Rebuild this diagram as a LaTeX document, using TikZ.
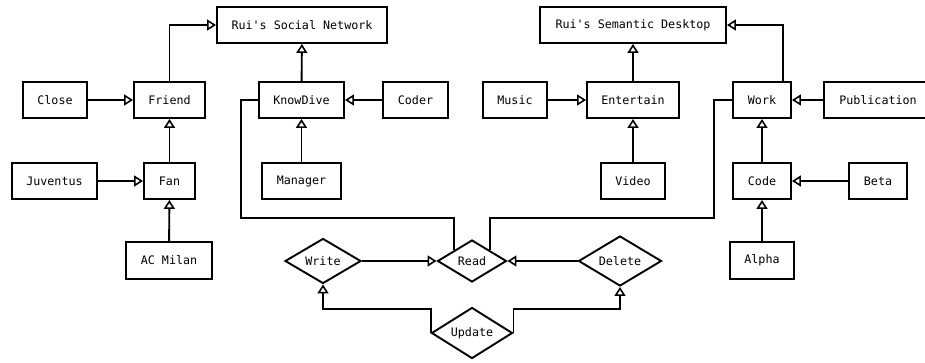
\documentclass[tikz,border=0pt]{standalone}
\usepackage{fontspec}
\setmonofont{DejaVu Sans Mono}
\usetikzlibrary{arrows.meta,shapes.geometric}

\begin{document}
\begin{tikzpicture}[x=1pt,y=-1pt,
  every node/.style={font=\ttfamily\fontsize{11.7}{14}\selectfont},
  box/.style={draw,line width=1.9pt,rectangle,inner sep=0pt},
  act/.style={draw,line width=1.9pt,diamond,inner sep=0pt,aspect=1.6},
  link/.style={line width=1.9pt},
  isa/.style={link,-{Triangle[open,length=9pt,width=11pt,line width=1.6pt]}}
]
\useasboundingbox (0,0) rectangle (925,362);
\clip (0,0) rectangle (925,362);

% social network side
\node[box,minimum width=170pt,minimum height=36pt] (soc) at (302,25) {Rui's Social Network};
\node[box,minimum width=64pt,minimum height=36pt] (close) at (55,100) {Close};
\node[box,minimum width=71pt,minimum height=36pt] (friend) at (169.5,100) {Friend};
\node[box,minimum width=85pt,minimum height=36pt] (knowdive) at (301.5,100) {KnowDive};
\node[box,minimum width=65pt,minimum height=36pt] (coder) at (415.5,100) {Coder};
\node[box,minimum width=85pt,minimum height=36pt] (juventus) at (54.5,181) {Juventus};
\node[box,minimum width=51pt,minimum height=36pt] (fan) at (169.5,181) {Fan};
\node[box,minimum width=79pt,minimum height=36pt] (manager) at (301.5,181) {Manager};
\node[box,minimum width=86pt,minimum height=37pt] (acmilan) at (169,260.5) {AC Milan};

% semantic desktop side
\node[box,minimum width=186pt,minimum height=36pt] (sem) at (633,25) {Rui's Semantic Desktop};
\node[box,minimum width=64pt,minimum height=36pt] (music) at (515,100) {Music};
\node[box,minimum width=92pt,minimum height=36pt] (entertain) at (633,100) {Entertain};
\node[box,minimum width=58pt,minimum height=36pt] (work) at (762,100) {Work};
\node[box,minimum width=108pt,minimum height=36pt] (publication) at (878,100) {Publication};
\node[box,minimum width=64pt,minimum height=36pt] (video) at (633,181) {Video};
\node[box,minimum width=58pt,minimum height=36pt] (code) at (762,181) {Code};
\node[box,minimum width=58pt,minimum height=36pt] (beta) at (878,181) {Beta};
\node[box,minimum width=64pt,minimum height=37pt] (alpha) at (762,260.5) {Alpha};

% access rights
\node[act,minimum width=76pt,minimum height=45pt] (write) at (323,261) {Write};
\node[act,minimum width=69pt,minimum height=42pt] (read) at (472,261) {Read};
\node[act,minimum width=83pt,minimum height=50pt] (delete) at (620,261) {Delete};
\node[act,minimum width=81pt,minimum height=51pt] (update) at (472,333) {Update};

% turning points of the plain links from Read
\coordinate (kdturn) at (241,218);
\coordinate (wkturn) at (714,218);

% inheritance arrows
\draw[isa] (friend.north) |- (soc.west);
\draw[isa] (close) -- (friend);
\draw[isa] (fan) -- (friend);
\draw[isa] (juventus) -- (fan);
\draw[isa] (acmilan) -- (fan);
\draw[isa] (knowdive) -- (soc);
\draw[isa] (coder) -- (knowdive);
\draw[isa] (manager) -- (knowdive);

\draw[isa] (entertain) -- (sem);
\draw[isa] (music) -- (entertain);
\draw[isa] (video) -- (entertain);
\draw[isa] ([xshift=21pt]work.north) |- (sem.east);
\draw[isa] (publication) -- (work);
\draw[isa] (code) -- (work);
\draw[isa] (beta) -- (code);
\draw[isa] (alpha) -- (code);

\draw[isa] (write) -- (read);
\draw[isa] (delete) -- (read);
\draw[isa] (update.west) -- ++(0,-24) -| (write.south);
\draw[isa] (update.east) -- ++(0,-24) -| (delete.south);

% plain links
\draw[link] (knowdive.west) -| (kdturn) -| (read.north west);
\draw[link] (read.north east) |- (wkturn) |- (work.west);
\end{tikzpicture}
\end{document}
